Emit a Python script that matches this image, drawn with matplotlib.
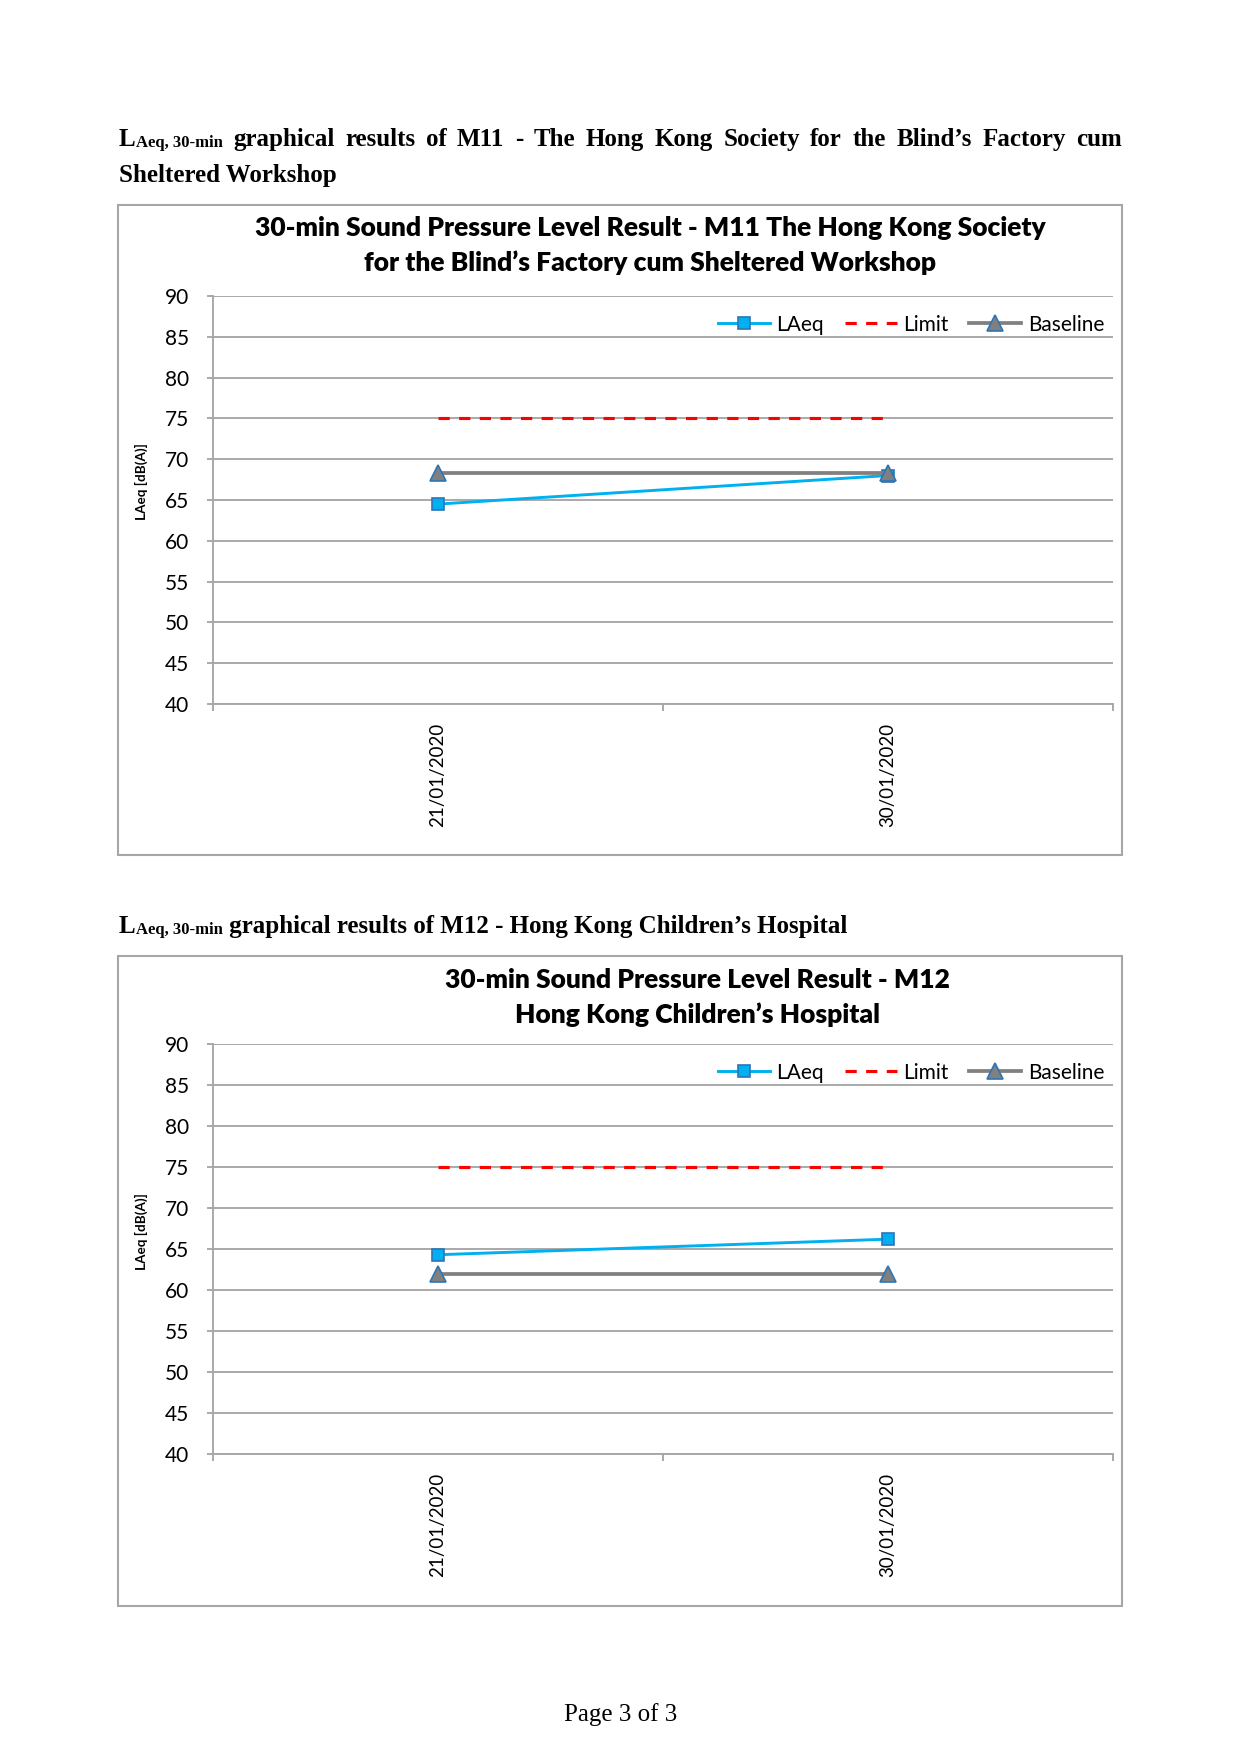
import matplotlib
matplotlib.use("Agg")
import matplotlib.pyplot as plt
from matplotlib.patches import Rectangle

# ---------------- data ----------------
dates = ["21/01/2020", "30/01/2020"]
m11_laeq = [64.5, 68.0]
m11_limit = [75, 75]
m11_baseline = [68.3, 68.3]
m12_laeq = [64.3, 66.2]
m12_limit = [75, 75]
m12_baseline = [61.9, 61.9]
series_names = ["LAeq", "Limit", "Baseline"]
y_ticks = [40, 45, 50, 55, 60, 65, 70, 75, 80, 85, 90]

title1 = ["30-min Sound Pressure Level Result - M11 The Hong Kong Society",
          "for the Blind\u2019s Factory cum Sheltered Workshop"]
title2 = ["30-min Sound Pressure Level Result - M12",
          "Hong Kong Children\u2019s Hospital"]
head1_words = ["graphical", "results", "of", "M11", "-", "The", "Hong", "Kong",
               "Society", "for", "the", "Blind\u2019s", "Factory", "cum"]
head1_line2 = "Sheltered Workshop"
head2_rest = " graphical results of M12 - Hong Kong Children\u2019s Hospital"
ylabel = "LAeq [dB(A)]"
footer = "Page 3 of 3"

# ---------------- figure ----------------
W, H, DPI = 1240, 1754, 150
fig = plt.figure(figsize=(W / DPI, H / DPI), dpi=DPI)
fig.patch.set_facecolor("white")
renderer = fig.canvas.get_renderer()

SANS = "Lato"
SERIF = "Liberation Serif"
GRID = "#A6A6A6"


def fx(px):
    return px / W


def fy(py):
    return 1 - py / H


def text_px(x, y, s, **kw):
    return fig.text(fx(x), fy(y), s, **kw)


def width_px(t):
    return t.get_window_extent(renderer).width


def chart(box, ax_rect, laeq, limit, base, titles, tcx, tys, ylab_y, title_fs):
    l, t, r, b = box
    fig.add_artist(Rectangle((fx(l), fy(b)), (r - l) / W, (b - t) / H,
                             transform=fig.transFigure, fill=False,
                             edgecolor=GRID, lw=1.0))
    al, at, ar, ab = ax_rect
    ax = fig.add_axes([fx(al), fy(ab), (ar - al) / W, (ab - at) / H])
    x = list(range(len(dates)))
    ax.plot(x, laeq, color="#00B0F0", lw=1.4, marker="s", ms=5.5,
            mfc="#00B0F0", mec="#2E75B6", mew=0.8, label=series_names[0],
            zorder=3)
    ax.plot(x, limit, color="#FF0000", lw=1.5, dashes=(3.6, 3.0),
            label=series_names[1], zorder=3.1)
    ax.plot(x, base, color="#808080", lw=1.8, marker="^", ms=8,
            mfc="#808080", mec="#2E75B6", mew=0.8, label=series_names[2],
            zorder=3.2)
    ax.set_xlim(-0.5, len(dates) - 0.5)
    ax.set_ylim(40, 90)
    ax.set_yticks(y_ticks)
    ax.set_yticklabels([str(v) for v in y_ticks], fontsize=10, family=SANS)
    ax.set_xticks(x)
    ax.set_xticklabels(dates, rotation=90, fontsize=9, family=SANS)
    ax.set_xticks([v - 0.5 for v in range(len(dates) + 1)], minor=True)
    ax.tick_params(axis="x", which="major", length=0, pad=9)
    ax.tick_params(axis="x", which="minor", length=3.4, width=0.9,
                   color=GRID, direction="out")
    ax.tick_params(axis="y", length=2.9, width=0.9, color=GRID, pad=8.5)
    ax.yaxis.grid(True, color=GRID, lw=0.9)
    ax.set_axisbelow(True)
    for s in ("top", "right"):
        ax.spines[s].set_visible(False)
    for s in ("left", "bottom"):
        ax.spines[s].set_color(GRID)
        ax.spines[s].set_linewidth(0.9)
    leg = ax.legend(loc="center right", bbox_to_anchor=(0.99, 0.93), ncol=3,
                    frameon=False, fontsize=10, handlelength=2.5,
                    handletextpad=0.3, columnspacing=1.0, borderpad=0,
                    borderaxespad=0, numpoints=1)
    for tx in leg.get_texts():
        tx.set_family(SANS)
    for s, yy in zip(titles, tys):
        text_px(tcx, yy, s, ha="center", va="baseline", fontsize=title_fs,
                fontweight="heavy", family=SANS)
    text_px(141, ylab_y, ylabel, rotation=90, ha="center", va="center",
            fontsize=6.5, fontweight="bold", family=SANS)
    return ax


# title font size fitted to the width of the first title line
probe = text_px(0, 0, title1[0], fontsize=14, fontweight="heavy", family=SANS)
title_fs = 14 * 790 / width_px(probe)
probe.remove()

chart((118, 205, 1122, 855), (213, 296, 1113, 704),
      m11_laeq, m11_limit, m11_baseline, title1, 650, (236, 271), 482, title_fs)
chart((118, 956, 1122, 1606), (213, 1044, 1113, 1454),
      m12_laeq, m12_limit, m12_baseline, title2, 697, (988, 1023), 1232, title_fs)


# ---------------- headings ----------------
def lead(x, y):
    a = text_px(x, y, "L", fontsize=12, fontweight="bold", family=SERIF,
                va="baseline")
    wa = width_px(a)
    b = text_px(x + wa, y + 1, "Aeq, 30-min", fontsize=8, fontweight="bold",
                family=SERIF, va="baseline")
    return wa + width_px(b)


# line 1: justified between 119 and 1122
x0, x1, yb = 119, 1122, 146
wl = lead(x0, yb)
words = [text_px(0, yb, w, fontsize=12, fontweight="bold", family=SERIF,
                 va="baseline") for w in head1_words]
ws = [width_px(w) for w in words]
gap = (x1 - x0 - wl - sum(ws)) / len(words)
cx = x0 + wl + gap
for t, w in zip(words, ws):
    t.set_x(fx(cx))
    cx += w + gap
text_px(x0, 182, head1_line2, fontsize=12, fontweight="bold", family=SERIF,
        va="baseline")

# heading 2
w2 = lead(119, 933)
text_px(119 + w2, 933, head2_rest, fontsize=12, fontweight="bold",
        family=SERIF, va="baseline")

# footer
text_px(621, 1721, footer, fontsize=12, family=SERIF, ha="center",
        va="baseline")

fig.savefig("out.png", dpi=DPI, facecolor="white")
